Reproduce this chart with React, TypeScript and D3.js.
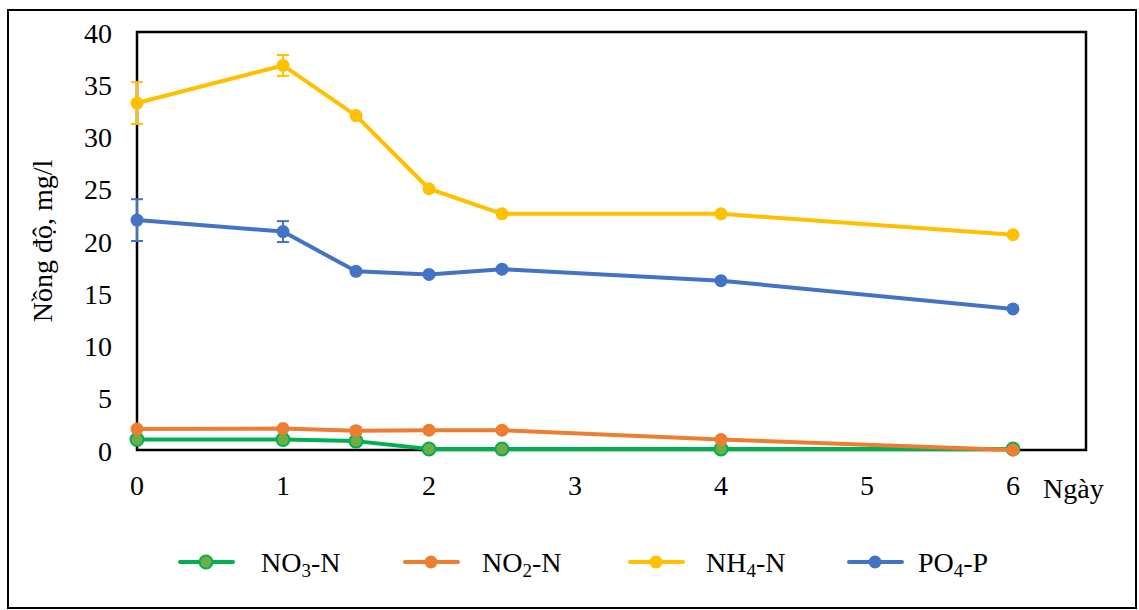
import React from "react";
import * as d3 from "d3";

const days = [0, 1, 1.5, 2, 2.5, 4, 6];
const no3 = [1.0, 1.0, 0.85, 0.1, 0.1, 0.1, 0.1];
const no2 = [2.0, 2.05, 1.85, 1.9, 1.9, 1.0, 0.0];
const nh4 = [33.2, 36.8, 32.0, 25.0, 22.6, 22.6, 20.6];
const po4 = [22.0, 20.9, 17.1, 16.8, 17.3, 16.2, 13.5];
// error bars (only first two days have visible ones)
const nh4Err = [2.0, 1.0, 0, 0, 0, 0, 0];
const po4Err = [2.0, 1.0, 0, 0, 0, 0, 0];
const no2Err = [0, 0, 0.3, 0, 0, 0, 0];
const xTicks = [0, 1, 2, 3, 4, 5, 6];
const yTicks = [0, 5, 10, 15, 20, 25, 30, 35, 40];

const series = [
  { key: "NO3", label: "NO", sub: "3", tail: "-N", values: no3, err: null, stroke: "#00B050", fill: "#70AD47" },
  { key: "NO2", label: "NO", sub: "2", tail: "-N", values: no2, err: no2Err, stroke: "#ED7D31", fill: "#ED7D31" },
  { key: "NH4", label: "NH", sub: "4", tail: "-N", values: nh4, err: nh4Err, stroke: "#FFC000", fill: "#FFC000" },
  { key: "PO4", label: "PO", sub: "4", tail: "-P", values: po4, err: po4Err, stroke: "#4472C4", fill: "#4472C4" },
];

const W = 1139, H = 610;
const left = 137, right = 1086, top = 32, bottom = 450;
const font = "Liberation Serif, DejaVu Serif, serif";

export default function App() {
  const x = d3.scaleLinear().domain([0, 6.5]).range([left, right]);
  const y = d3.scaleLinear().domain([0, 40]).range([bottom, top]);
  const line = d3.line<number>().x((_, i) => x(days[i])).y(d => y(d));

  // draw order: PO4, NH4 behind, then NO3, NO2 on top
  const order = [series[3], series[2], series[0], series[1]];
  const legendX = [180, 405, 630, 849];
  const legendTextX = [261, 482, 706, 918];

  return (
    <svg width={W} height={H} style={{ position: "absolute", left: 0, top: 0, fontFamily: font }}>
      <rect x={0} y={0} width={W} height={H} fill="#fff" />
      <rect x={8} y={10} width={1128} height={598} fill="none" stroke="#000" strokeWidth={2} />
      <rect x={left} y={top} width={right - left} height={bottom - top} fill="none" stroke="#000" strokeWidth={2.5} />

      {yTicks.map(t => (
        <text key={t} x={112} y={y(t) + 1} style={{ fontSize: 28 }} textAnchor="end" dominantBaseline="central">{t}</text>
      ))}
      {xTicks.map(t => (
        <text key={t} x={x(t)} y={485} style={{ fontSize: 28 }} textAnchor="middle" dominantBaseline="central">{t}</text>
      ))}
      <text x={1043} y={488} style={{ fontSize: 28 }} dominantBaseline="central">Ngày</text>
      <text transform={`translate(42,${241}) rotate(-90)`} style={{ fontSize: 28 }} textAnchor="middle" dominantBaseline="central">Nồng độ, mg/l</text>

      {order.map(s => (
        <g key={s.key}>
          <path d={line(s.values) || ""} fill="none" stroke={s.stroke} strokeWidth={4} strokeLinejoin="round" />
          {s.err && s.values.map((v, i) => s.err![i] > 0 ? (
            <g key={i} stroke={s.stroke} strokeWidth={2}>
              <line x1={x(days[i])} x2={x(days[i])} y1={y(v + s.err![i])} y2={y(v - s.err![i])} />
              <line x1={x(days[i]) - 6} x2={x(days[i]) + 6} y1={y(v + s.err![i])} y2={y(v + s.err![i])} />
              <line x1={x(days[i]) - 6} x2={x(days[i]) + 6} y1={y(v - s.err![i])} y2={y(v - s.err![i])} />
            </g>
          ) : null)}
          {s.values.map((v, i) => (
            <circle key={i} cx={x(days[i])} cy={y(v)} r={6.5} fill={s.fill} stroke={s.stroke} strokeWidth={s.key === "NO3" ? 2 : 0} />
          ))}
        </g>
      ))}

      {series.map((s, i) => (
        <g key={s.key}>
          <g transform={`translate(${legendX[i]},562)`}>
            <line x1={0} x2={53} y1={0} y2={0} stroke={s.stroke} strokeWidth={4} strokeLinecap="round" />
            <circle cx={26} cy={0} r={6.5} fill={s.fill} stroke={s.stroke} strokeWidth={s.key === "NO3" ? 2 : 0} />
          </g>
          <text x={legendTextX[i]} y={562} style={{ fontSize: 28 }} dominantBaseline="central">
            {s.label}
            <tspan style={{ fontSize: 19 }} dy={8}>{s.sub}</tspan>
            <tspan dy={-8}>{s.tail}</tspan>
          </text>
        </g>
      ))}
    </svg>
  );
}
